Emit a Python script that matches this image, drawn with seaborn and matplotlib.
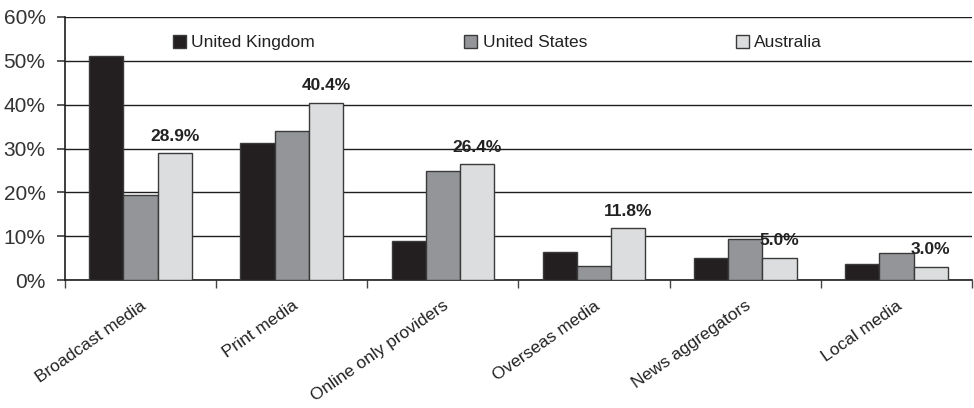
import matplotlib
matplotlib.use("Agg")
import matplotlib.pyplot as plt
from matplotlib import font_manager
from matplotlib.ticker import FuncFormatter, FixedLocator
import numpy as np
import pandas as pd
import seaborn as sns

# Share of respondents by main news source
categories = ["Broadcast media", "Print media", "Online only providers",
              "Overseas media", "News aggregators", "Local media"]
countries = ["United Kingdom", "United States", "Australia"]
uk_values = [51.2, 31.2, 8.8, 6.3, 5.0, 3.6]
us_values = [19.4, 34.1, 24.8, 3.3, 9.3, 6.1]
au_values = [28.9, 40.4, 26.4, 11.8, 5.0, 3.0]
y_ticks = [0, 10, 20, 30, 40, 50, 60]

colors = ["#231f20", "#939598", "#dcddde"]

df = pd.DataFrame({
    "category": categories * 3,
    "country": [c for c in countries for _ in categories],
    "value": uk_values + us_values + au_values,
})

sns.set_theme(style="white")
available = {f.name for f in font_manager.fontManager.ttflist}
base = "Liberation Sans Narrow" if "Liberation Sans Narrow" in available else "Liberation Sans"
plt.rcParams["font.family"] = [base, "DejaVu Sans"]

fig = plt.figure(figsize=(9.74, 4.08), dpi=100)
ax = fig.add_axes([65 / 974, 1 - 280 / 408, 907 / 974, 263 / 408])

sns.barplot(data=df, x="category", y="value", hue="country",
            hue_order=countries, order=categories, palette=colors,
            width=0.68, edgecolor="#3a3a3a", linewidth=1.0,
            saturation=1, ax=ax, legend=True, zorder=3)

ax.set_ylim(0, 60)
ax.set_xlim(-0.5, len(categories) - 0.5)
ax.yaxis.set_major_locator(FixedLocator(y_ticks))
ax.yaxis.set_major_formatter(FuncFormatter(lambda v, p: f"{v:.0f}%"))
ax.grid(axis="y", color="#1e1e1e", linewidth=1.0, zorder=0)
ax.set_axisbelow(True)

for s in ["top", "right"]:
    ax.spines[s].set_visible(False)
for s in ["left", "bottom"]:
    ax.spines[s].set_color("#1e1e1e")
    ax.spines[s].set_linewidth(1.2)

ax.set_xlabel("")
ax.set_ylabel("")
ax.tick_params(axis="y", which="major", direction="out", length=6,
               color="#444444", labelsize=15, labelcolor="#333333", pad=8,
               left=True)
ax.set_xticks(range(len(categories)))
ax.set_xticklabels(categories, rotation=35, ha="right",
                   rotation_mode="anchor", fontsize=12.5, color="#222222")
ax.tick_params(axis="x", which="major", length=0, pad=13)
ax.set_xticks(np.arange(-0.5, len(categories)), minor=True)
ax.tick_params(axis="x", which="minor", direction="out", length=6,
               color="#444444", width=1.0, bottom=True)

# Value labels above the Australia bars
au_bars = ax.containers[2]
for bar, v in zip(au_bars, au_values):
    ax.annotate(f"{v:.1f}%",
                (bar.get_x() + bar.get_width() / 2, bar.get_height()),
                xytext=(0, 7), textcoords="offset points",
                ha="center", va="bottom", fontsize=12.5,
                fontweight="bold", color="#222222")

handles, labels = ax.get_legend_handles_labels()
leg = ax.legend(handles, labels, loc="center", bbox_to_anchor=(0.477, 0.903),
                ncol=3, frameon=False, fontsize=12.5, handlelength=0.75,
                handleheight=0.75, handletextpad=0.3, columnspacing=8.6,
                borderpad=0)
for h in leg.legend_handles:
    h.set_edgecolor("#3a3a3a")
    h.set_linewidth(1.0)
for t in leg.get_texts():
    t.set_color("#222222")

fig.savefig("out.png", dpi=100)
